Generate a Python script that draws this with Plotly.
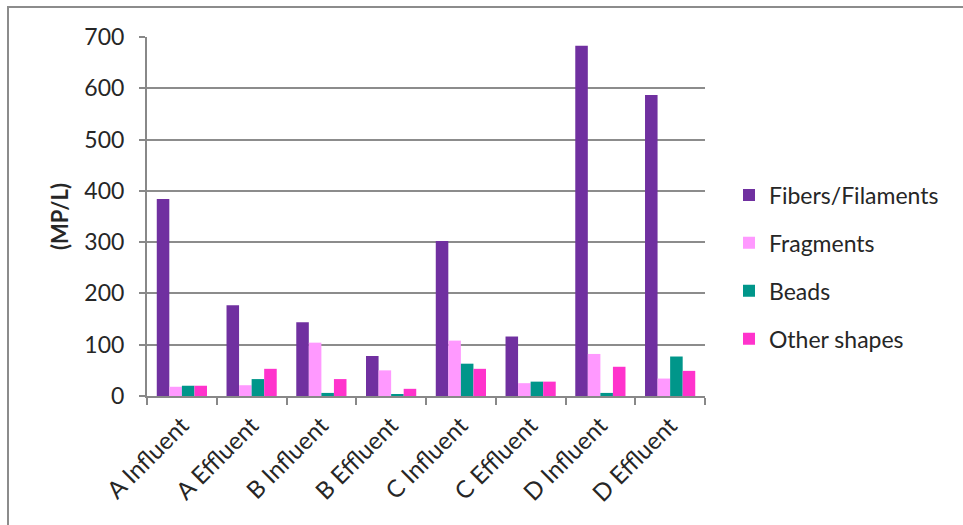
import plotly.graph_objects as go

categories = ["A Influent", "A Effluent", "B Influent", "B Effluent",
              "C Influent", "C Effluent", "D Influent", "D Effluent"]
fibers = [384, 177, 144, 78, 302, 116, 683, 587]
fragments = [18, 21, 104, 50, 108, 25, 82, 34]
beads = [20, 33, 6, 2, 63, 28, 6, 77]
other = [20, 53, 33, 14, 53, 28, 57, 49]

series = [
    ("Fibers/Filaments", fibers, "#7030A0"),
    ("Fragments", fragments, "#FF99FF"),
    ("Beads", beads, "#00968A"),
    ("Other shapes", other, "#FF33CC"),
]

FONT = "Lato, 'Open Sans', sans-serif"
TXT = "#262626"
fig = go.Figure()
for i, (name, vals, col) in enumerate(series):
    fig.add_trace(go.Bar(x=categories, y=vals, name=name, marker_color=col,
                         marker_line_width=0, legendgroup=str(i)))

L, R, T, B = 147, 705, 37, 396
W, H = 963, 525
pw, ph = R - L, B - T

fig.update_layout(
    width=W, height=H,
    margin=dict(l=L, r=W - R, t=T, b=H - B, autoexpand=False),
    paper_bgcolor="white", plot_bgcolor="white",
    barmode="group", bargap=0.28, bargroupgap=0,
    font=dict(family=FONT, color=TXT, size=23),
    showlegend=True,
    legend=dict(x=(729 - L) / pw, y=(B - 267) / ph, xanchor="left", yanchor="middle",
                traceorder="grouped", tracegroupgap=15,
                font=dict(size=23, family=FONT, color=TXT),
                bgcolor="rgba(0,0,0,0)"),
    xaxis=dict(showline=True, linecolor="#888888", linewidth=2,
               ticks="outside", tickson="boundaries", ticklen=7, tickcolor="#888888", tickwidth=2,
               tickangle=-45, tickfont=dict(size=24, family=FONT, color=TXT),
               ticklabelstandoff=4,
               showgrid=False, fixedrange=True),
    yaxis=dict(range=[0, 700], dtick=100, showline=True, linecolor="#888888", linewidth=2,
               ticks="outside", ticklen=6, tickcolor="#888888", tickwidth=2,
               ticklabelstandoff=10,
               showgrid=True, gridcolor="#8c8c8c", gridwidth=2,
               tickfont=dict(size=23, family=FONT, color=TXT),
               title=dict(text="<b>(MP/L)</b>", font=dict(size=22, family=FONT, color=TXT),
                          standoff=10),
               zeroline=False, fixedrange=True),
)

fig.add_shape(type="rect", xref="paper", yref="paper",
              x0=(8 - L) / pw, x1=(W + 20 - L) / pw,
              y0=(B - (H + 20)) / ph, y1=(B - 7) / ph,
              line=dict(color="#8c8c8c", width=2), fillcolor="rgba(0,0,0,0)", layer="below")

fig.write_html("out.html")
